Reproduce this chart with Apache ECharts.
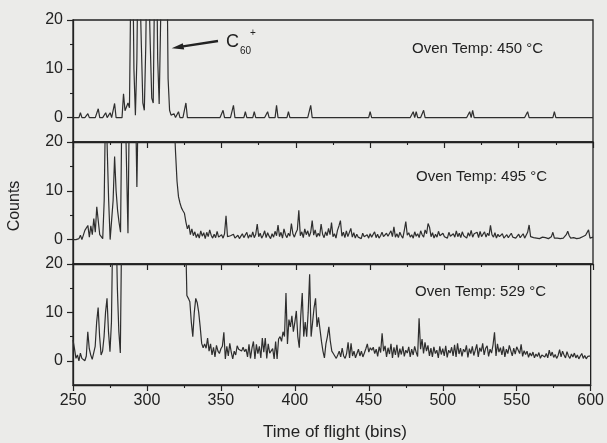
<!DOCTYPE html>
<html><head><meta charset="utf-8">
<script src="https://cdn.jsdelivr.net/npm/echarts@6/dist/echarts.min.js"></script>
<style>html,body{margin:0;padding:0;background:#ebebe9}#c{width:607px;height:443px}</style>
</head><body><div id="c"></div>
<script>
// Time-of-flight bins 250..600 (one value per bin)
const firstBin = 250, lastBin = 600;
const xTicks = [250, 300, 350, 400, 450, 500, 550, 600];
const yTickLabels = [0, 10, 20];
const yMinorTicks = [5, 15];
const panelLabels = ['Oven Temp: 450 °C', 'Oven Temp: 495 °C', 'Oven Temp: 529 °C'];

const counts450 = [
0,0,0,0,0,1,0,0,0,0,
0.8,0,0,0,0,0,0,1.8,0,0,
0,0,1,0,0,1,0,0,2.9,0,
0,0,0,0,4.9,1.4,1.5,3,2,30,
40,10,0.5,12,40,40,15,3,1.5,15,
40,40,15,4,3,30,40,12,2.8,20,
40,40,22,40,8,1.5,0.5,0.5,0.8,0,
0.3,1.2,0,0,0,0,3,0,0,0,
0,0,0,0,0,0,0,0,0,0,
0,0,0,0,0,0,0,0,0,0,
0,1.5,0,0,0,0,0,0,2.5,0,
0,0,0,0,0,0,1.2,0,0,0,
0,0,1.2,0,0,0,0,0,0,0,
0,1.2,0,0,0,0,0,2.5,0,0,
0,0,0,0,0,1.2,0,0,0,0,
0,0,0,0,0,0,0,0,0,0,
2.5,0,0,0,0,0,0,0,0,0,
0,0,0,0,0,0,0,0,0,0,
0,0,0,0,0,0,0,0,0,0,
0,0,0,0,0,0,0,0,0,0,
1.2,0,0,0,0,0,0,0,0,0,
0,0,0,0,0,0,0,0,0,0,
0,0,0,0,0,0,0,0,0,1.2,
0,1.2,0,0,0,0,1.5,0,0,0,
0,0,0,0,0,0,0,0,0,0,
0,0,0,0,0,0,0,0,0,0,
0,0,0,0,0,0,0,1.2,0,1.5,
0,0,0,0,0,0,0,0,0,0,
0,0,0,0,0,0,0,0,0,0,
0,0,0,0,0,0,0,0,0,0,
0,0,0,0,0,0,1.2,0,0,0,
0,0,0,0,0,0,0,0,0,0,
0,0,0,0,1.2,0,0,0,0,0,
0,0,0,0,0,0,0,0,0,0,
0,0,0,0,0,0,0,0,0,0,
0
];

const counts495 = [
0,0,0,0,0.2,0.9,0,0.3,1.9,1.5,
2.9,0.5,2.8,1,4.3,1.5,6.7,7,1,1,
0.2,8,30,30,8,0,4,8,17,10,
6,3.5,1.5,30,30,30,30,1.3,30,30,
30,30,30,10.8,30,30,30,30,30,30,
30,30,30,30,30,30,30,30,30,30,
30,30,30,30,30,30,30,30,25,18,
12,8.8,7.5,6.5,5.9,5.4,3.6,2.2,3,1,
2.2,0.8,1.6,0.4,1.2,0.3,1.8,0.7,1.4,0.2,
1.5,0.6,2.0,0.9,0.3,1.1,0.4,1.7,0.5,0.2,
1.0,0.3,1.2,4.9,0.6,0.2,0.8,0.4,1.1,0.3,
0.6,0.9,0.2,0.7,1.2,0.4,0.8,1.5,0.3,1.0,
0.5,1.6,0.4,1.1,3.2,0.6,1.3,0.3,0.9,1.8,
0.4,1.4,0.7,0.2,1.2,0.5,1.7,0.8,3.0,0.6,
1.5,0.3,2.2,1.0,0.4,1.3,0.7,3.3,1.2,0.5,
1.4,2.0,6.0,0.8,1.6,0.4,2.2,1.0,1.8,0.6,
1.5,3.9,0.9,2.0,0.5,1.3,0.7,3.2,1.1,0.4,
1.6,0.8,2.3,1.0,3.5,0.6,1.2,0.3,1.9,2.8,
3.9,0.7,1.5,0.4,1.8,0.6,1.0,2.3,0.5,1.4,
0.3,1.1,0.5,0.8,0.2,1.3,0.6,0.4,1.0,0.3,
1.2,0.5,0.9,1.6,0.4,1.1,0.3,0.8,1.5,0.6,
0.2,1.3,0.7,0.4,1.8,0.6,2.6,0.5,1.2,0.4,
1.5,0.8,0.3,1.9,3.7,0.9,1.4,0.5,1.0,0.3,
1.6,0.7,1.2,0.4,1.8,1.0,0.5,2.0,1.2,3.3,
2.5,0.6,1.4,0.3,1.1,0.5,1.7,0.8,0.4,1.3,
0.6,1.0,0.3,1.5,0.7,0.4,1.2,0.5,1.8,0.6,
1.3,0.4,1.6,0.8,1.1,0.3,1.4,0.7,1.9,0.5,
1.2,0.8,1.5,0.4,1.7,0.6,1.0,1.6,0.5,1.3,
0.8,2.9,1.0,0.5,1.4,0.3,1.1,0.6,0.4,1.2,
0.3,0.6,1.0,0.4,0.2,1.3,0.5,0.8,0.3,0.6,
1.1,0.4,0.7,1.2,0.3,0.9,1.5,3.0,0.6,0.3,
0.4,0.2,0.3,0.6,0.2,0.3,0.5,0.2,0.4,0.3,
0.2,0.4,0.6,1.5,0.3,0.2,0.3,0.5,0.2,0.4,
0.3,0.6,1.0,1.7,0.8,0.3,0.2,0.4,0.3,0.2,
0.5,0.3,0.2,0.6,0.4,0.9,1.3,2.0,0.3,0.2,
0.5
];

const counts529 = [
4.3,2.5,0.5,1.2,0,1.6,0.5,0.8,0,1,
6,2.5,1.2,0.3,0,3,8,11,5,1.2,
2,5,10,12.9,6,1.9,8,30,25,30,
15,6,1.6,30,30,30,30,30,30,30,
30,30,30,30,30,30,30,30,30,30,
30,30,30,30,30,30,30,30,30,30,
30,30,30,30,30,30,30,30,30,30,
30,30,30,30,30,30,28,13.5,12.9,12.2,
8,5,10,12.9,12,10,7,3.6,2.7,3.5,
2.6,4.7,2,3.5,1.2,2.8,0.8,3.2,2,1.5,
2.5,3,5.9,0.4,3,1,3.6,1.8,0.4,2,
1.2,3.1,2.4,2.6,2,2.8,1.9,2.4,0.8,3.4,
0.5,2.6,4,0.4,3.4,1.5,3,0.6,4.7,1.8,
4.7,0.5,3.5,1.6,1.2,2.5,0.4,4,0.4,4.5,
5,4,6,5,14,3.5,8.5,7,9.3,6,
8,10.3,5,2.7,9.3,14,5,8,5,10,
17.9,5,8,11,12.9,7,9,9.3,4,2,
0.6,3.5,5,7,4,2,1.5,1,0.5,1.2,
2.0,0.8,2.6,1.0,0.5,1.5,3.8,0.6,3.6,1.0,
2.0,0.6,1.5,2.4,1.0,2.0,0.8,1.6,2.5,3.5,
1.8,2.7,2.2,2.8,1.5,2.4,0.9,2.9,1.7,5.7,
2.0,3.1,0.8,2.7,1.4,3.5,0.6,2.8,1.2,3.3,
0.7,2.5,1.3,3.0,0.9,2.2,1.6,2.9,0.8,2.4,
1.2,3.0,1.8,0.9,8.8,2.4,4.5,1.5,3.8,2.0,
3.2,1.0,2.6,0.8,2.9,1.5,2.2,0.6,3.0,1.3,
2.5,1.0,3.1,0.7,2.2,1.6,2.8,1.0,3.3,0.8,
3.6,1.4,2.6,0.9,2.4,1.8,3.2,0.7,2.5,1.5,
3.0,1.1,2.2,3.4,0.8,2.7,1.9,3.6,1.2,2.6,
3.1,0.9,2.4,1.6,3.3,5.9,1.0,3.5,1.8,2.7,
1.2,3.0,0.8,2.4,1.5,3.2,2.8,1.0,2.6,1.4,
2.9,3.1,1.5,3.4,0.9,2.1,1.3,2.0,0.7,1.6,
1.0,1.8,0.6,1.4,0.9,1.7,0.5,1.2,1.6,0.8,
1.5,0.6,2.2,1.0,1.8,0.7,1.3,0.5,1.1,2.3,
0.8,2.0,1.2,0.6,1.9,1.0,0.5,1.4,0.8,1.6,
0.6,1.2,0.4,1.0,1.5,0.5,1.1,0.4,0.9,0.6,
1.0
];

const seriesValues = [counts450, counts495, counts529];
const bins = [];
for (let b = firstBin; b <= lastBin; b++) bins.push(b);

const FONT = 'Arial, "Liberation Sans", sans-serif';
const INK = '#222';
const LEFT = 73, RIGHT = 14;
const grids = [
  {left: LEFT, right: RIGHT, top: 20, height: 122},
  {left: LEFT, right: RIGHT, top: 142, height: 122},
  {left: LEFT, right: RIGHT, top: 264, height: 121}
].map(g => Object.assign(g, {show: true, borderColor: INK, borderWidth: 1.3, backgroundColor: 'transparent'}));

const xAxes = [], yAxes = [], series = [];
for (let i = 0; i < 3; i++) {
  xAxes.push({
    type: 'value', gridIndex: i, min: xTicks[0], max: xTicks[xTicks.length - 1], interval: 50,
    position: 'bottom',
    axisLine: {show: true, onZero: false, lineStyle: {color: INK, width: 1.3}},
    axisTick: {show: true, inside: false, length: 6, lineStyle: {color: INK, width: 1.2}},
    minorTick: {show: true, splitNumber: 2, length: 3, lineStyle: {color: INK, width: 1.1}},
    axisLabel: {show: i === 2, color: INK, fontSize: 16, fontFamily: FONT, margin: 8},
    splitLine: {show: false}
  });
  yAxes.push({
    type: 'value', gridIndex: i, min: -5, max: 20, interval: 5, position: 'left',
    axisLine: {show: true, onZero: false, lineStyle: {color: INK, width: 1.3}},
    axisTick: {show: true, length: 6, customValues: yTickLabels, lineStyle: {color: INK, width: 1.2}},
    axisLabel: {show: true, customValues: yTickLabels, color: INK, fontSize: 16, fontFamily: FONT, margin: 10},
    splitLine: {show: false}
  });
  yAxes.push({
    type: 'value', gridIndex: i, min: -5, max: 20, interval: 5, position: 'left',
    axisLine: {show: false},
    axisTick: {show: true, length: 3, customValues: yMinorTicks, lineStyle: {color: INK, width: 1.1}},
    axisLabel: {show: false},
    splitLine: {show: false}
  });
  series.push({
    type: 'line', xAxisIndex: i, yAxisIndex: i * 2, showSymbol: false, clip: true,
    lineStyle: {color: '#2e2e2e', width: 1.2}, animation: false,
    data: seriesValues[i].map((v, k) => [bins[k], v])
  });
}

const panelTextPos = [[412, 50], [416, 178], [415, 293]];
const graphic = panelLabels.map((t, i) => ({
  type: 'text', left: panelTextPos[i][0], top: panelTextPos[i][1] - 9,
  style: {text: t, fill: INK, font: '15px ' + FONT}
}));
graphic.push(
  {type: 'text', left: 226, top: 33, style: {text: 'C', fill: INK, font: '18px ' + FONT}},
  {type: 'text', left: 240, top: 46, style: {text: '60', fill: INK, font: '10px ' + FONT}},
  {type: 'text', left: 250, top: 28, style: {text: '+', fill: INK, font: '10px ' + FONT}},
  {type: 'line', shape: {x1: 218, y1: 41, x2: 183, y2: 46.4}, style: {stroke: INK, lineWidth: 2.4}},
  {type: 'polygon', shape: {points: [[171.7, 48.3], [184.2, 49.6], [182.8, 43.2]]}, style: {fill: INK}},
  {type: 'text', x: 15, y: 206, rotation: Math.PI / 2, style: {text: 'Counts', fill: INK, font: '16px ' + FONT, align: 'center', verticalAlign: 'middle'}},
  {type: 'text', x: 335, y: 432, style: {text: 'Time of flight (bins)', fill: INK, font: '17px ' + FONT, align: 'center', verticalAlign: 'middle'}}
);

const chart = echarts.init(document.getElementById('c'), null, {renderer: 'canvas'});
chart.setOption({
  backgroundColor: '#ebebe9',
  animation: false,
  grid: grids, xAxis: xAxes, yAxis: yAxes, series: series, graphic: graphic
});
</script></body></html>
